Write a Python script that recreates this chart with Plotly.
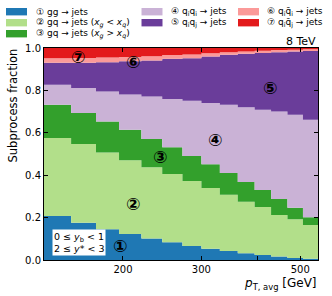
import plotly.graph_objects as go
import numpy as np

# pT,avg bin edges [GeV]
bin_edges = [133, 153, 174, 196, 220, 245, 272, 300, 330, 362, 395, 430, 468, 507, 548]

# subprocess fractions per bin
frac_gg = [0.208, 0.176, 0.145, 0.123, 0.102, 0.084, 0.066, 0.053, 0.042, 0.032, 0.024, 0.016, 0.010, 0.006]
frac_gq_lt = [0.367, 0.371, 0.362, 0.347, 0.336, 0.322, 0.307, 0.287, 0.266, 0.243, 0.226, 0.196, 0.182, 0.159]
frac_gq_gt = [0.157, 0.146, 0.146, 0.144, 0.133, 0.126, 0.118, 0.112, 0.102, 0.093, 0.080, 0.076, 0.054, 0.037]
frac_qiqi = [0.095, 0.118, 0.142, 0.167, 0.200, 0.227, 0.260, 0.288, 0.322, 0.352, 0.379, 0.413, 0.439, 0.459]
frac_qiqj = [0.103, 0.119, 0.138, 0.156, 0.170, 0.190, 0.201, 0.220, 0.236, 0.253, 0.267, 0.279, 0.298, 0.325]
frac_qiqibar = [0.022, 0.023, 0.022, 0.021, 0.020, 0.018, 0.017, 0.015, 0.012, 0.011, 0.011, 0.010, 0.009, 0.008]
frac_qiqjbar = [0.048, 0.047, 0.045, 0.042, 0.039, 0.033, 0.031, 0.025, 0.020, 0.016, 0.013, 0.010, 0.008, 0.006]

labels = [
    "① gg → jets",
    "② gq → jets (<i>x<sub>g</sub></i> &lt; <i>x<sub>q</sub></i>)",
    "③ gq → jets (<i>x<sub>g</sub></i> &gt; <i>x<sub>q</sub></i>)",
    "④ q<sub>i</sub>q<sub>i</sub> → jets",
    "⑤ q<sub>i</sub>q<sub>j</sub> → jets",
    "⑥ q<sub>i</sub>q\u0304<sub>i</sub> → jets",
    "⑦ q<sub>i</sub>q\u0304<sub>j</sub> → jets",
]
colors = ["#1f78b4", "#b2df8a", "#33a02c", "#cab2d6", "#6a3d9a", "#fb9a99", "#e31a1c"]
series = [frac_gg, frac_gq_lt, frac_gq_gt, frac_qiqi, frac_qiqj, frac_qiqibar, frac_qiqjbar]

fig = go.Figure()
cum = np.zeros(len(frac_gg))
xs = list(bin_edges)
for i, (s, c) in enumerate(zip(series, colors)):
    cum = cum + np.array(s)
    ys = list(cum) + [cum[-1]]
    fig.add_trace(go.Scatter(
        x=xs, y=ys, mode="lines", line=dict(width=0, shape="hv", color=c),
        fill="tozeroy" if i == 0 else "tonexty", fillcolor=c,
        showlegend=False, hoverinfo="skip"))

FONT = "DejaVu Sans"
W, H = 332, 296
L, R, T, B = 44, 14, 48, 36

def px2paper(x, y):
    return (x - L) / (W - L - R), (H - B - y) / (H - T - B)

shapes = []
annotations = []
# custom legend
leg_cols = [(6, 34), (141.5, 169), (238, 265)]
leg_rows = [11.7, 22.7, 33.7]
positions = [(0, 0), (0, 1), (0, 2), (1, 0), (1, 1), (2, 0), (2, 1)]
for (ci, ri), lab, c in zip(positions, labels, colors):
    px0, tx = leg_cols[ci]
    py = leg_rows[ri]
    x0, y0 = px2paper(px0, py + 3.7)
    x1, y1 = px2paper(px0 + 21, py - 3.7)
    shapes.append(dict(type="rect", xref="paper", yref="paper", x0=x0, y0=y0, x1=x1, y1=y1,
                       fillcolor=c, line=dict(width=0)))
    ax, ay = px2paper(tx, py)
    annotations.append(dict(text=lab, xref="paper", yref="paper", x=ax, y=ay,
                            xanchor="left", yanchor="middle", showarrow=False,
                            font=dict(family=FONT, size=9, color="black")))

# 8 TeV
ax, ay = px2paper(318, 42)
annotations.append(dict(text="8 TeV", xref="paper", yref="paper", x=ax, y=ay,
                        xanchor="right", yanchor="middle", showarrow=False,
                        font=dict(family=FONT, size=11, color="black")))
# x title
ax, ay = px2paper(319, 284)
annotations.append(dict(text="<i>p</i><sub>T, avg</sub> [GeV]", xref="paper", yref="paper",
                        x=ax, y=ay, xanchor="right", yanchor="middle", showarrow=False,
                        font=dict(family=FONT, size=12, color="black")))
# y title (aligned to top of axes)
ax, ay = px2paper(12.5, 47)
annotations.append(dict(text="Subprocess fraction", xref="paper", yref="paper",
                        x=ax, y=ay, xanchor="center", yanchor="top", textangle=-90,
                        showarrow=False, font=dict(family=FONT, size=11.5, color="black")))
# y-range box
ax, ay = px2paper(52, 242)
annotations.append(dict(text="0 ≤ <i>y</i><sub>b</sub> &lt; 1<br>2 ≤ <i>y</i>* &lt; 3",
                        xref="paper", yref="paper", x=ax, y=ay, xanchor="left", yanchor="middle",
                        align="left", showarrow=False, bgcolor="white", borderpad=1,
                        font=dict(family=FONT, size=9.5, color="black")))
# circled numbers in plot
circ = [("①", 120, 246), ("②", 133, 204), ("③", 160, 157), ("④", 215, 140),
        ("⑤", 270, 88), ("⑥", 133, 62), ("⑦", 78, 57)]
for t, px, py in circ:
    ax, ay = px2paper(px, py)
    annotations.append(dict(text="<b>" + t + "</b>", xref="paper", yref="paper", x=ax, y=ay,
                            xanchor="center", yanchor="middle", showarrow=False,
                            font=dict(family=FONT, size=17, color="black")))

fig.update_layout(
    width=W, height=H,
    margin=dict(l=L, r=R, t=T, b=B, pad=0),
    paper_bgcolor="white", plot_bgcolor="white",
    shapes=shapes, annotations=annotations,
    font=dict(family=FONT, size=10, color="black"),
)
fig.update_xaxes(type="log", range=[np.log10(bin_edges[0]), np.log10(bin_edges[-1])],
                 tickvals=[200, 300, 400, 500], ticktext=["200", "300", "", "500"],
                 ticks="inside", ticklen=4, tickcolor="black", showline=True, linecolor="black",
                 linewidth=1, mirror="ticks", showgrid=False, zeroline=False,
                 tickfont=dict(family=FONT, size=10))
fig.update_yaxes(range=[0, 1], tickvals=[0, 0.2, 0.4, 0.6, 0.8, 1.0],
                 ticktext=["0.0", "0.2", "0.4", "0.6", "0.8", "1.0"],
                 ticks="inside", ticklen=4, tickcolor="black", showline=True, linecolor="black",
                 linewidth=1, mirror="ticks", showgrid=False, zeroline=False,
                 tickfont=dict(family=FONT, size=10))

fig.write_html("out.html", config={"displayModeBar": False},
               post_script="document.body.style.margin='0px';")
